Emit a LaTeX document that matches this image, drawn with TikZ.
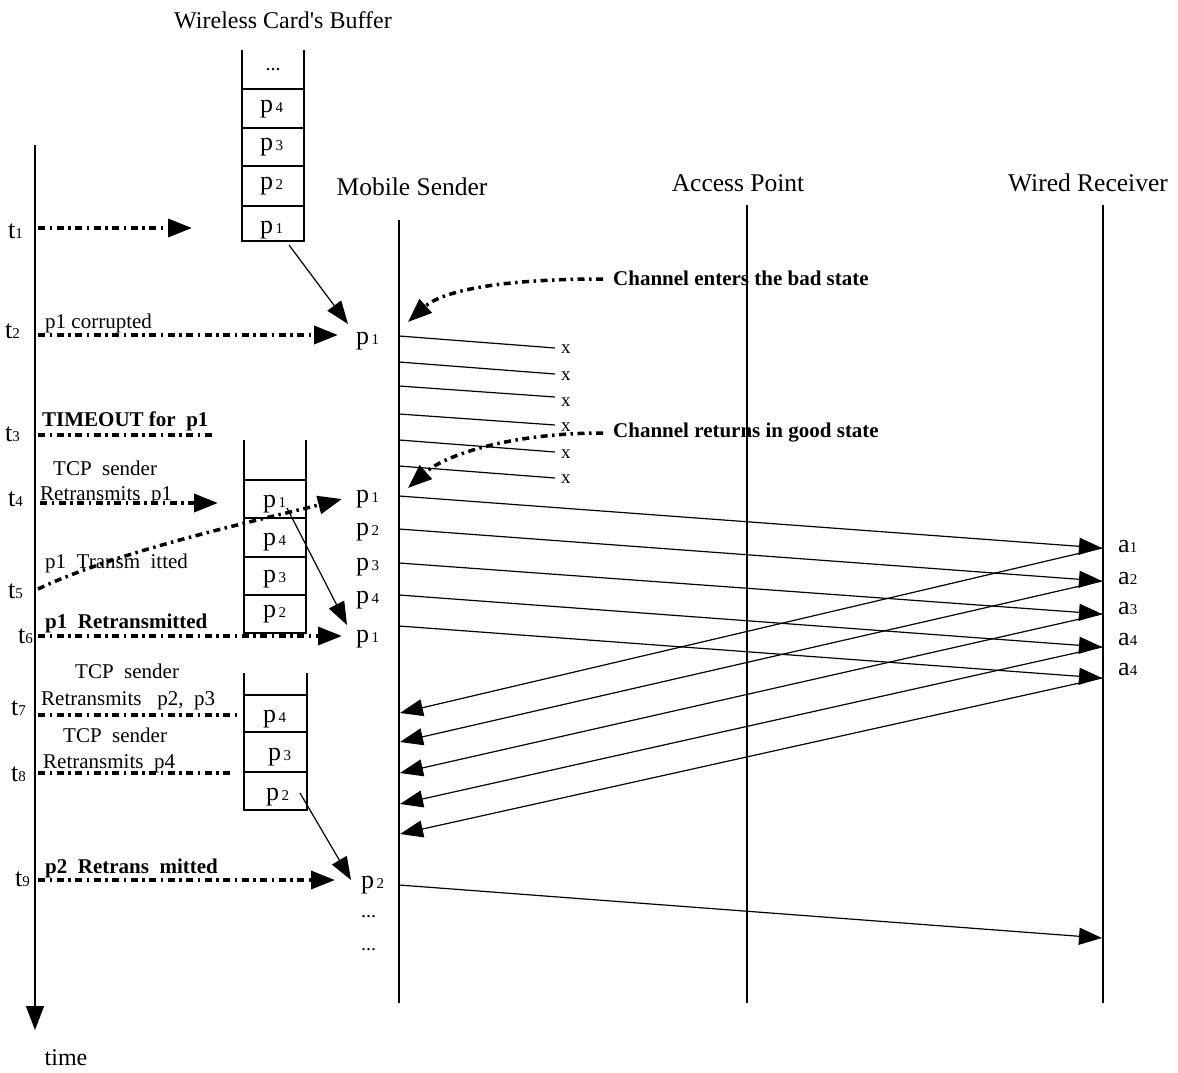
\documentclass[tikz,border=0pt]{standalone}
\usepackage{fontspec}
\setmainfont{Liberation Serif}
\usetikzlibrary{arrows.meta}
\newcommand{\pk}[2][15]{p{\fontsize{#1}{#1}\selectfont\,#2}}
\newcommand{\tk}[1]{t{\fontsize{15}{15}\selectfont #1}}
\newcommand{\ak}[1]{a{\fontsize{15}{15}\selectfont #1}}
\begin{document}
\begin{tikzpicture}[x=1pt,y=-1pt,
  lifeline/.style={line width=1.4pt},
  bigtip/.style={-{Triangle[length=24pt,width=18pt]}},
  dotline/.style={line width=3.5pt, dash pattern=on 7pt off 4.5pt on 2.5pt off 4.5pt},
  dotarrow/.style={dotline, bigtip},
  msg/.style={line width=1.2pt, -{Triangle[length=23pt,width=17pt]}},
  lossline/.style={line width=1.2pt},
  cell/.style={line width=1.3pt},
  hdr/.style={font=\fontsize{25.5}{28}\selectfont, inner sep=0pt},
  lbl/.style={font=\fontsize{21}{24}\selectfont, anchor=base west, inner sep=0pt},
  blbl/.style={font=\fontsize{21}{24}\selectfont\bfseries, anchor=base west, inner sep=0pt},
  pl/.style={font=\fontsize{26}{28}\selectfont, anchor=base west, inner sep=0pt},
  xl/.style={font=\fontsize{19}{20}\selectfont, anchor=base west, inner sep=0pt}]
\useasboundingbox (0,0) rectangle (1178,1073);

% ---------- headers ----------
\node[hdr, font=\fontsize{24}{28}\selectfont] (hbuf) at (283,20) {Wireless Card\textquotesingle s Buffer};
\node[hdr] (hms) at (412,187) {Mobile Sender};
\node[hdr] (hap) at (738,183) {Access Point};
\node[hdr] (hwr) at (1088,183) {Wired Receiver};
\node[hdr, font=\fontsize{24}{28}\selectfont] (htime) at (66,1058) {time};

% ---------- lifelines ----------
\coordinate (tTop) at (35,145); \coordinate (tBot) at (35,1030);
\draw[lifeline,bigtip] (tTop) -- (tBot);
\coordinate (msTop) at (399,220); \coordinate (msBot) at (399,1003);
\coordinate (apTop) at (747,205); \coordinate (apBot) at (747,1003);
\coordinate (wrTop) at (1103,205); \coordinate (wrBot) at (1103,1003);
\draw[lifeline] (msTop) -- (msBot);
\draw[lifeline] (apTop) -- (apBot);
\draw[lifeline] (wrTop) -- (wrBot);

% ---------- time labels ----------
\node[pl] (t1) at (8,238) {\tk{1}};
\node[pl] (t2) at (5,338) {\tk{2}};
\node[pl] (t3) at (5,441) {\tk{3}};
\node[pl] (t4) at (8,506) {\tk{4}};
\node[pl] (t5) at (8,598) {\tk{5}};
\node[pl] (t6) at (18,643) {\tk{6}};
\node[pl] (t7) at (11,715) {\tk{7}};
\node[pl] (t8) at (11,781) {\tk{8}};
\node[pl] (t9) at (15,886) {\tk{9}};

% ---------- buffer 1 (top) ----------
\draw[cell] (242,50) -- (242,241) -- (304,241) -- (304,50);
\foreach \y in {89,128,166,206} \draw[cell] (242,\y) -- (304,\y);
\node[font=\fontsize{20}{22}\selectfont, inner sep=0pt] (b1d) at (273,70) {...};
\node[pl] (b1p4) at (260,112) {\pk{4}};
\node[pl] (b1p3) at (260,150) {\pk{3}};
\node[pl] (b1p2) at (260,189) {\pk{2}};
\node[pl] (b1p1) at (260,233) {\pk{1}};

% ---------- buffer 2 ----------
\draw[cell] (244,440) -- (244,633) -- (306,633) -- (306,440);
\foreach \y in {480,518,557,595} \draw[cell] (244,\y) -- (306,\y);
\node[pl] (b2p1) at (263,507) {\pk{1}};
\node[pl] (b2p4) at (263,545) {\pk{4}};
\node[pl] (b2p3) at (263,582) {\pk{3}};
\node[pl] (b2p2) at (263,617) {\pk{2}};

% ---------- buffer 3 ----------
\draw[cell] (244,673) -- (244,810) -- (307,810) -- (307,673);
\foreach \y in {695,732,772} \draw[cell] (244,\y) -- (307,\y);
\node[pl] (b3p4) at (263,722) {\pk{4}};
\node[pl] (b3p3) at (268,760) {\pk{3}};
\node[pl] (b3p2) at (266,800) {\pk{2}};

% ---------- packets at mobile sender ----------
\node[pl] (s1) at (356,344) {\pk{1}};
\node[pl] (s2) at (356,502) {\pk{1}};
\node[pl] (s3) at (356,535) {\pk{2}};
\node[pl] (s4) at (356,570) {\pk{3}};
\node[pl] (s5) at (356,603) {\pk{4}};
\node[pl] (s6) at (356,642) {\pk{1}};
\node[pl] (s7) at (361,888) {\pk{2}};
\node[font=\fontsize{20}{22}\selectfont, anchor=base west, inner sep=0pt] (sd1) at (361,917) {...};
\node[font=\fontsize{20}{22}\selectfont, anchor=base west, inner sep=0pt] (sd2) at (361,950) {...};

% ---------- acks at receiver ----------
\node[pl] (a1) at (1118,552) {\ak{1}};
\node[pl] (a2) at (1118,584) {\ak{2}};
\node[pl] (a3) at (1118,614) {\ak{3}};
\node[pl] (a4) at (1118,645) {\ak{4}};
\node[pl] (a5) at (1118,675) {\ak{4}};

% ---------- left-side labels ----------
\node[lbl] (l2) at (45,328) {p1~corrupted};
\node[blbl] (l3) at (42,426) {TIMEOUT for~~p1};
\node[lbl] (l4a) at (53,475) {TCP~~sender};
\node[lbl] (l4b) at (40,500) {Retransmits~~p1};
\node[lbl] (l5) at (45,568) {p1~~Transm~~itted};
\node[blbl] (l6) at (45,628) {p1~~Retransmitted};
\node[lbl] (l7a) at (75,678) {TCP~~sender};
\node[lbl] (l7b) at (41,705) {Retransmits~~~p2,~~p3};
\node[lbl] (l8a) at (63,742) {TCP~~sender};
\node[lbl] (l8b) at (43,768) {Retransmits~~p4};
\node[blbl] (l9) at (45,873) {p2~~Retrans~~mitted};

% ---------- channel labels ----------
\node[blbl] (cbad) at (613,285) {Channel enters the bad state};
\node[blbl] (cgood) at (613,437) {Channel returns in good state};

% ---------- dotted arrows from time axis ----------
\coordinate (d1a) at (38,228);  \coordinate (d1b) at (192,228);
\coordinate (d2a) at (38,335);  \coordinate (d2b) at (338,335);
\coordinate (d3a) at (38,435);  \coordinate (d3b) at (215,435);
\coordinate (d4a) at (40,503);  \coordinate (d4b) at (218,503);
\coordinate (d5a) at (38,589);  \coordinate (d5b) at (342,499);
\coordinate (d6a) at (38,636);  \coordinate (d6b) at (342,636);
\coordinate (d7a) at (38,715);  \coordinate (d7b) at (238,715);
\coordinate (d8a) at (38,773);  \coordinate (d8b) at (230,773);
\coordinate (d9a) at (38,880);  \coordinate (d9b) at (335,880);
\draw[dotarrow] (d1a) -- (d1b);
\draw[dotarrow] (d2a) -- (d2b);
\draw[dotline] (d3a) -- (d3b);
\draw[dotarrow] (d4a) -- (d4b);
\draw[dotarrow] (d5a) .. controls (120,550) and (260,520) .. (d5b);
\draw[dotarrow] (d6a) -- (d6b);
\draw[dotline] (d7a) -- (d7b);
\draw[dotline] (d8a) -- (d8b);
\draw[dotarrow] (d9a) -- (d9b);

% ---------- channel state arrows ----------
\coordinate (cb1) at (603,279); \coordinate (cb2) at (408,322);
\coordinate (cg1) at (603,433); \coordinate (cg2) at (408,488);
\draw[dotarrow] (cb1) .. controls (490,279) and (440,293) .. (cb2);
\draw[dotarrow] (cg1) .. controls (510,433) and (445,455) .. (cg2);

% ---------- buffer to sender arrows ----------
\coordinate (m1a) at (289,245); \coordinate (m1b) at (348,324);
\coordinate (m2a) at (287,508); \coordinate (m2b) at (347,625);
\coordinate (m3a) at (300,793); \coordinate (m3b) at (351,880);
\draw[msg] (m1a) -- (m1b);
\draw[msg] (m2a) -- (m2b);
\draw[msg] (m3a) -- (m3b);

% ---------- lost packets ----------
\foreach \i/\ya/\yb/\yx in {1/336/348/353, 2/362/374/380, 3/386/397/406, 4/414/425/431, 5/440/452/458, 6/466/478/483}{
  \coordinate (xa\i) at (399,\ya);
  \coordinate (xb\i) at (555,\yb);
  \draw[lossline] (xa\i) -- (xb\i);
  \node[xl] (x\i) at (561,\yx) {x};
}

% ---------- data packets to receiver ----------
\foreach \i/\ya/\yb in {1/496/548, 2/529/581, 3/563/614, 4/595/647, 5/626/678}{
  \coordinate (fs\i) at (399,\ya);
  \coordinate (fr\i) at (1102,\yb);
  \draw[msg] (fs\i) -- (fr\i);
}
% ---------- acks back to sender ----------
\foreach \i/\ya/\yb in {1/548/713, 2/581/742, 3/614/773, 4/647/804, 5/678/834}{
  \coordinate (bs\i) at (1102,\ya);
  \coordinate (br\i) at (400,\yb);
  \draw[msg] (bs\i) -- (br\i);
}
% ---------- final p2 ----------
\coordinate (fp2a) at (399,885); \coordinate (fp2b) at (1102,938);
\draw[msg] (fp2a) -- (fp2b);
\end{tikzpicture}
\end{document}
